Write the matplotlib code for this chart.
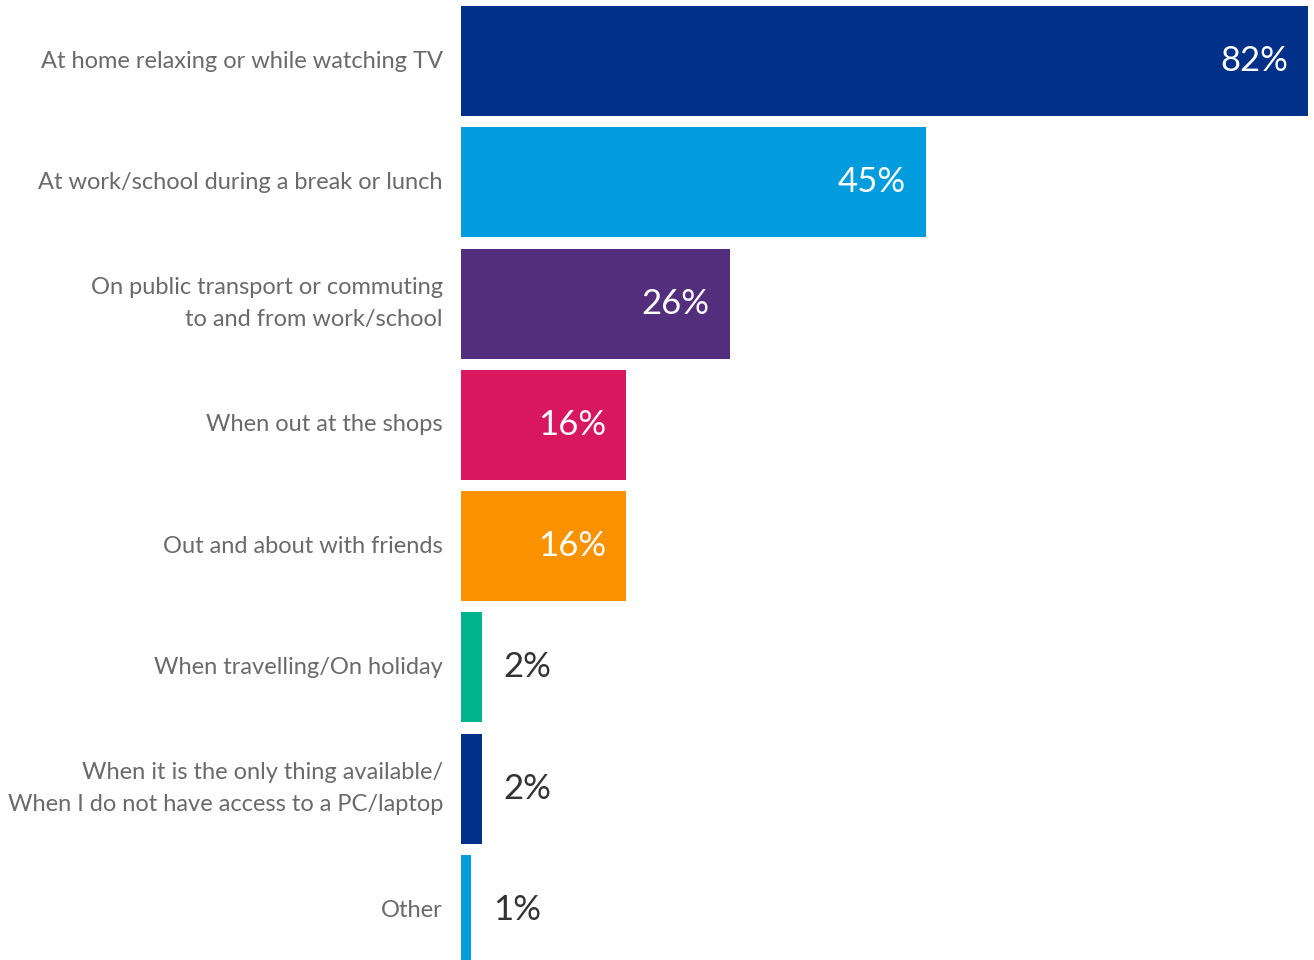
import matplotlib
matplotlib.use("Agg")
import matplotlib.pyplot as plt

categories = [
    "At home relaxing or while watching TV",
    "At work/school during a break or lunch",
    "On public transport or commuting\nto and from work/school",
    "When out at the shops",
    "Out and about with friends",
    "When travelling/On holiday",
    "When it is the only thing available/\nWhen I do not have access to a PC/laptop",
    "Other",
]
values = [82, 45, 26, 16, 16, 2, 2, 1]
value_labels = ["82%", "45%", "26%", "16%", "16%", "2%", "2%", "1%"]
colors = ["#003087", "#009CDE", "#532E7D", "#D9175F", "#FA9200", "#00B38C", "#003087", "#009CDE"]

W, H = 1314, 960
fig = plt.figure(figsize=(W / 100, H / 100), dpi=100)
ax = fig.add_axes([461 / W, 0, 1 - 461 / W, 1])

px_per_unit = 10.33
ax.set_xlim(0, (W - 461) / px_per_unit)
pitch = 121.3
c0 = 61
ax.set_ylim((H - c0) / pitch, -c0 / pitch)

ypos = list(range(len(categories)))
ax.barh(ypos, values, height=110 / pitch, color=colors, left=0)

fam = ["Lato", "DejaVu Sans"]
ax.set_yticks(ypos)
ax.set_yticklabels(categories, fontsize=17, color="#6a6a6a", family=fam,
                   fontweight="normal", linespacing=1.65)
for t in ax.get_yticklabels():
    t.set_verticalalignment("center")
ax.tick_params(axis="y", length=0, pad=13)
ax.set_xticks([])
for s in ax.spines.values():
    s.set_visible(False)

for y, v, lab in zip(ypos, values, value_labels):
    if v >= 10:
        ax.annotate(lab, xy=(v, y), xytext=(-20, 0), textcoords="offset pixels",
                    ha="right", va="center", color="white", fontsize=25,
                    family=fam, fontweight="normal")
    else:
        ax.annotate(lab, xy=(v, y), xytext=(22, 0), textcoords="offset pixels",
                    ha="left", va="center", color="#333333", fontsize=25,
                    family=fam, fontweight="normal")

fig.savefig("out.png", dpi=100)
